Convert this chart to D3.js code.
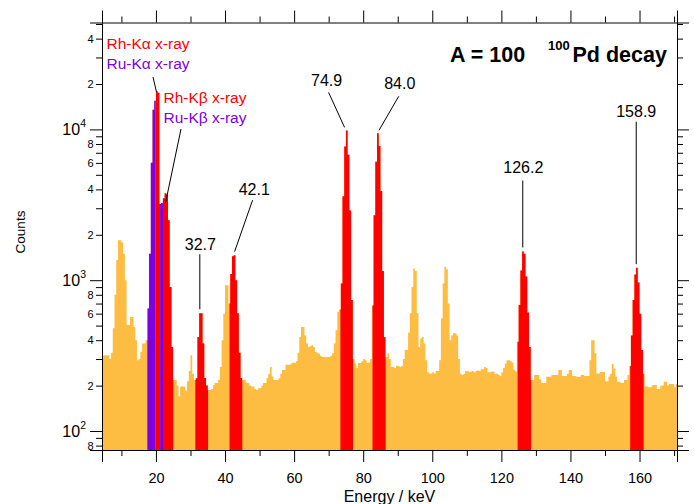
<!DOCTYPE html>
<html><head><meta charset="utf-8">
<script src="https://cdn.jsdelivr.net/npm/d3@7"></script>
<style>
body{margin:0;background:#fff}
svg{display:block;font-family:"Liberation Sans",Arial,Helvetica,sans-serif}
</style></head><body>
<svg id="chart" width="694" height="504"></svg>
<script>
// Gamma-ray singles spectrum, 0.5 keV bins starting at 4.0 keV
const binStart = 4.0;
const binWidth = 0.5;
const counts = [
  310,315,318,318,318,300,330,480,800,1360,1840,1840,1780,1500,1000,505,505,570,570,490,
  400,295,300,335,380,380,400,650,1500,6000,13500,15500,17900,17500,3200,3250,3500,3770,3700,2500,
  900,360,218,218,200,170,197,197,197,185,214,250,318,240,218,224,420,604,604,380,
  225,200,187,187,190,202,208,208,218,266,400,600,926,926,700,1100,1440,1466,1000,604,
  330,225,218,218,210,208,200,197,197,190,187,192,192,200,208,208,224,240,266,230,
  218,218,218,224,240,254,254,275,275,275,280,285,282,290,330,420,490,490,430,380,
  360,365,371,360,334,330,325,315,310,310,308,310,310,315,328,380,466,617,640,950,
  3600,7700,9850,6800,2900,740,300,280,262,282,282,290,300,295,282,285,300,680,2700,6100,
  9420,7750,3900,1150,420,310,328,300,266,266,262,270,270,266,270,300,344,344,450,604,
  900,1190,1150,604,360,410,420,380,295,245,241,241,245,241,250,250,295,560,950,1230,
  1180,700,400,430,445,445,430,300,240,235,240,250,250,245,248,250,245,250,252,250,
  257,257,266,262,245,245,248,248,240,240,236,232,245,262,280,295,295,290,285,255,
  248,390,685,1160,1550,1500,1060,610,360,218,218,235,235,235,220,208,208,208,229,229,
  229,235,235,235,235,254,254,232,232,232,240,254,254,232,232,230,228,228,235,235,
  232,232,232,295,400,400,328,241,241,246,246,246,214,214,230,240,278,260,230,212,
  212,208,208,218,218,235,270,430,740,1090,1210,965,600,345,240,197,197,195,195,200,
  202,202,190,190,200,200,212,212,200,205,205,205,195,205
];

// Energy windows (keV) of the gated lines
const ruXrayWindows = [[17.5, 19.9], [21.2, 22.3]];
const rhWindows = [[19.9, 21.2], [22.3, 25.0], [31.4, 35.1], [41.3, 45.0],
                   [73.4, 77.05], [82.7, 86.5], [124.7, 128.6], [157.3, 161.2]];

// Labelled gamma lines (keV)
const peakEnergies = [32.7, 42.1, 74.9, 84.0, 126.2, 158.9];
const peakTexts = ["32.7", "42.1", "74.9", "84.0", "126.2", "158.9"];

// Axis ticks
const xMajor = [20, 40, 60, 80, 100, 120, 140, 160];
const xMinor = [10, 30, 50, 70, 90, 110, 130, 150, 170];
const yDecades = [100, 1000, 10000];
const yMinorMultipliers = [2, 3, 4, 5, 6, 7, 8, 9];

const xDomain = [4.38, 170.85];
const yDomain = [74.8, 51170];

const W = 694, H = 504;
const M = {left: 102, right: 677, top: 22.5, bottom: 450};
const COL_BG = "#fdbc42", COL_RH = "#ff0000", COL_RU = "#7d00e3";

const svg = d3.select("#chart");
const x = d3.scaleLinear().domain(xDomain).range([M.left, M.right]);
const y = d3.scaleLog().domain(yDomain).range([M.bottom, M.top]);

// spectrum as step points
const pts = counts.map((c, i) => ({e: binStart + i * binWidth, c}));
pts.push({e: binStart + counts.length * binWidth, c: counts[counts.length - 1]});

const area = d3.area()
  .curve(d3.curveStepAfter)
  .x(d => x(d.e))
  .y0(M.bottom)
  .y1(d => y(d.c));

const defs = svg.append("defs");
defs.append("clipPath").attr("id", "plotClip").append("rect")
  .attr("x", M.left).attr("y", M.top)
  .attr("width", M.right - M.left).attr("height", M.bottom - M.top);

function windowClip(id, wins) {
  const cp = defs.append("clipPath").attr("id", id);
  cp.selectAll("rect").data(wins).join("rect")
    .attr("x", d => x(d[0])).attr("y", M.top)
    .attr("width", d => x(d[1]) - x(d[0]))
    .attr("height", M.bottom - M.top);
}
windowClip("rhClip", rhWindows);
windowClip("ruClip", ruXrayWindows);

const plot = svg.append("g").attr("clip-path", "url(#plotClip)");
plot.append("path").datum(pts).attr("d", area).attr("fill", COL_BG);
plot.append("g").attr("clip-path", "url(#rhClip)")
  .append("path").datum(pts).attr("d", area).attr("fill", COL_RH);
plot.append("g").attr("clip-path", "url(#ruClip)")
  .append("path").datum(pts).attr("d", area).attr("fill", COL_RU);

// ---- axes ----
const yMinorVals = [];
[10].concat(yDecades).forEach(d => yMinorMultipliers.forEach(k => {
  const v = k * d;
  if (v >= yDomain[0] && v <= yDomain[1]) yMinorVals.push(v);
}));

function styleAxis(g) {
  g.select(".domain").attr("stroke", "#000").attr("stroke-width", 1);
  g.selectAll(".tick line").attr("stroke", "#000").attr("stroke-width", 1);
  g.selectAll("text").attr("fill", "#000").attr("font-family", null);
}

const majLen = 12, minLen = 6;
// bottom
const gxB = svg.append("g").attr("transform", `translate(0,${M.bottom})`)
  .call(d3.axisBottom(x).tickValues(xMajor).tickSize(majLen).tickPadding(11).tickFormat(d3.format("d")));
styleAxis(gxB);
gxB.selectAll("text").attr("font-size", 14.5);
svg.append("g").attr("transform", `translate(0,${M.bottom})`)
  .call(d3.axisBottom(x).tickValues(xMinor).tickSize(minLen).tickFormat(""))
  .call(styleAxis).select(".domain").remove();
// top
svg.append("g").attr("transform", `translate(0,${M.top})`)
  .call(d3.axisTop(x).tickValues(xMajor).tickSize(majLen).tickFormat(""))
  .call(styleAxis);
svg.append("g").attr("transform", `translate(0,${M.top})`)
  .call(d3.axisTop(x).tickValues(xMinor).tickSize(minLen).tickFormat(""))
  .call(styleAxis).select(".domain").remove();
// left
const gyL = svg.append("g").attr("transform", `translate(${M.left},0)`)
  .call(d3.axisLeft(y).tickValues(yDecades).tickSize(majLen).tickPadding(4).tickFormat(""));
styleAxis(gyL);
gyL.selectAll(".tick").append("text")
  .attr("x", -(majLen + 4)).attr("dy", "0.32em").attr("text-anchor", "end")
  .attr("fill", "#000").attr("font-size", 16)
  .each(function(d) {
    const t = d3.select(this);
    t.append("tspan").text("10");
    t.append("tspan").attr("font-size", 10.5).attr("dy", "-0.75em").text(Math.round(Math.log10(d)));
  });
const gyLm = svg.append("g").attr("transform", `translate(${M.left},0)`)
  .call(d3.axisLeft(y).tickValues(yMinorVals).tickSize(minLen).tickPadding(2.5)
    .tickFormat(d => {
      const k = Math.round(d / Math.pow(10, Math.floor(Math.log10(d) + 1e-9)));
      return k % 2 === 0 ? String(k) : "";
    }));
styleAxis(gyLm);
gyLm.select(".domain").remove();
gyLm.selectAll("text").attr("font-size", 11);
// right
svg.append("g").attr("transform", `translate(${M.right},0)`)
  .call(d3.axisRight(y).tickValues(yDecades).tickSize(majLen).tickFormat(""))
  .call(styleAxis);
svg.append("g").attr("transform", `translate(${M.right},0)`)
  .call(d3.axisRight(y).tickValues(yMinorVals).tickSize(minLen).tickFormat(""))
  .call(styleAxis).select(".domain").remove();

// axis titles
svg.append("text").attr("x", (M.left + M.right) / 2).attr("y", 501.5)
  .attr("text-anchor", "middle").attr("font-size", 16).text("Energy / keV");
svg.append("text").attr("transform", `translate(25,232) rotate(-90)`)
  .attr("text-anchor", "middle").attr("font-size", 13.5).text("Counts");

// ---- title ----
const title = svg.append("text").attr("x", 450).attr("y", 61.7)
  .attr("font-size", 21.5).attr("font-weight", "bold");
title.append("tspan").text("A = 100");
title.append("tspan").attr("x", 548).attr("y", 49.5).attr("font-size", 13).text("100");
title.append("tspan").attr("x", 572.5).attr("y", 61.7).text("Pd decay");

// ---- peak annotations ----
// offsets (px) from the top of each labelled peak: line bottom, line top, text anchor
const peakCallouts = [
  {lb: [0, -4], lt: [0, -59], tx: [0.5, -63]},
  {lb: [2.3, -3.5], lt: [20.3, -55], tx: [22, -60]},
  {lb: [-1, -3], lt: [-17, -38], tx: [-19, -44]},
  {lb: [2, -3], lt: [21.7, -37], tx: [22.7, -44]},
  {lb: [0, -4], lt: [0, -71], tx: [0.5, -78]},
  {lb: [0.5, -3.5], lt: [0.5, -146], tx: [0.5, -151]}
];
const ann = svg.append("g");
peakEnergies.forEach((e, i) => {
  let top = 0;
  counts.forEach((c, j) => {
    const ec = binStart + (j + 0.5) * binWidth;
    if (Math.abs(ec - e) < 1.2 && c > top) top = c;
  });
  const px = x(e), py = y(top);
  const co = peakCallouts[i];
  ann.append("line")
    .attr("x1", px + co.lb[0]).attr("y1", py + co.lb[1])
    .attr("x2", px + co.lt[0]).attr("y2", py + co.lt[1])
    .attr("stroke", "#000").attr("stroke-width", 1);
  ann.append("text").attr("x", px + co.tx[0]).attr("y", py + co.tx[1])
    .attr("text-anchor", "middle").attr("font-size", 16).text(peakTexts[i]);
});

// ---- x-ray labels ----
const xr = svg.append("g").attr("font-size", 15.5);
xr.append("text").attr("x", 106.5).attr("y", 48.5).attr("fill", COL_RH).text("Rh-K\u03b1 x-ray");
xr.append("text").attr("x", 106.5).attr("y", 69).attr("fill", COL_RU).text("Ru-K\u03b1 x-ray");
xr.append("text").attr("x", 163.5).attr("y", 102.5).attr("fill", COL_RH).text("Rh-K\u03b2 x-ray");
xr.append("text").attr("x", 163.5).attr("y", 123).attr("fill", COL_RU).text("Ru-K\u03b2 x-ray");
xr.append("line").attr("x1", 153).attr("y1", 77).attr("x2", 156.5).attr("y2", 92)
  .attr("stroke", "#000").attr("stroke-width", 1);
xr.append("line").attr("x1", 181).attr("y1", 129).attr("x2", 165.5).attr("y2", 203)
  .attr("stroke", "#000").attr("stroke-width", 1);
</script>
</body></html>
